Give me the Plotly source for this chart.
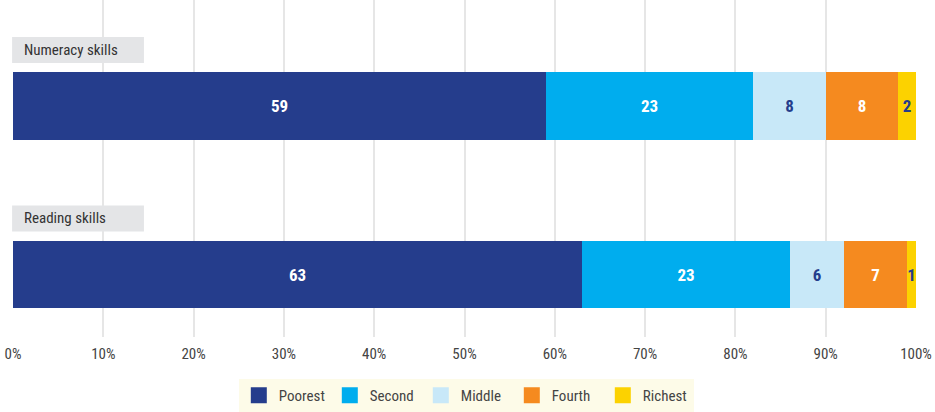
import plotly.graph_objects as go

# Share of children lacking foundational skills by wealth quintile (%)
skills = ["Reading skills", "Numeracy skills"]
quintiles = ["Poorest", "Second", "Middle", "Fourth", "Richest"]
poorest = [63, 59]
second = [23, 23]
middle = [6, 8]
fourth = [7, 8]
richest = [1, 2]
x_ticks = [0, 10, 20, 30, 40, 50, 60, 70, 80, 90, 100]

values = [poorest, second, middle, fourth, richest]
colors = ["#253d8c", "#00adee", "#c8e8f8", "#f58a1f", "#fcd200"]
label_colors = ["#ffffff", "#ffffff", "#253d8c", "#ffffff", "#253d8c"]

FONT = "Liberation Sans Narrow, Roboto Condensed, Roboto, Arial, sans-serif"

fig = go.Figure()
for name, vals, col, tcol in zip(quintiles, values, colors, label_colors):
    fig.add_trace(go.Bar(
        y=skills, x=vals, orientation="h", name=name,
        marker=dict(color=col, line=dict(width=0)),
        width=0.4,
        text=[str(v) for v in vals], textposition="inside",
        insidetextanchor="middle", constraintext="none",
        textfont=dict(family=FONT, size=17, color=tcol, weight="bold"),
        showlegend=False, hoverinfo="skip",
    ))
    # legend swatch
    fig.add_trace(go.Scatter(
        x=[None], y=[None], mode="markers", name=name,
        marker=dict(symbol="square", size=18, color=col),
    ))

# grey caption boxes above each bar
for i, s in enumerate(skills):
    fig.add_shape(type="rect", xref="paper", yref="y",
                  x0=-0.001, x1=0.145, y0=i + 0.255, y1=i + 0.41,
                  fillcolor="#e4e5e7", line=dict(width=0), layer="above")
    fig.add_annotation(xref="paper", yref="y", x=0.01, y=i + 0.334,
                       text=s, showarrow=False, xanchor="left", yanchor="middle",
                       font=dict(family=FONT, size=15, color="#333333"))

fig.update_layout(
    width=935, height=412,
    margin=dict(l=13, r=19, t=0, b=66),
    paper_bgcolor="white", plot_bgcolor="white",
    barmode="stack", bargap=0,
    uniformtext=dict(minsize=17, mode="show"),
    font=dict(family=FONT, color="#444444"),
    xaxis=dict(range=[0, 100], tickvals=x_ticks,
               ticktext=[f"{t}%" for t in x_ticks],
               showgrid=True, gridcolor="#e6e6e6", gridwidth=1.5,
               zeroline=False, showline=False,
               tickfont=dict(family=FONT, size=15, color="#444444"),
               ticks="", ticklabelstandoff=6, fixedrange=True),
    yaxis=dict(range=[-0.371, 1.629], showticklabels=False, showgrid=False,
               zeroline=False, fixedrange=True),
    legend=dict(orientation="h", xanchor="center", x=0.502,
                yanchor="top", y=-0.125, bgcolor="#fdfbe8",
                font=dict(family=FONT, size=15, color="#444444"),
                itemwidth=30, entrywidth=46, traceorder="normal",
                itemclick=False, itemdoubleclick=False),
    showlegend=True,
)

fig.write_html("out.html")
